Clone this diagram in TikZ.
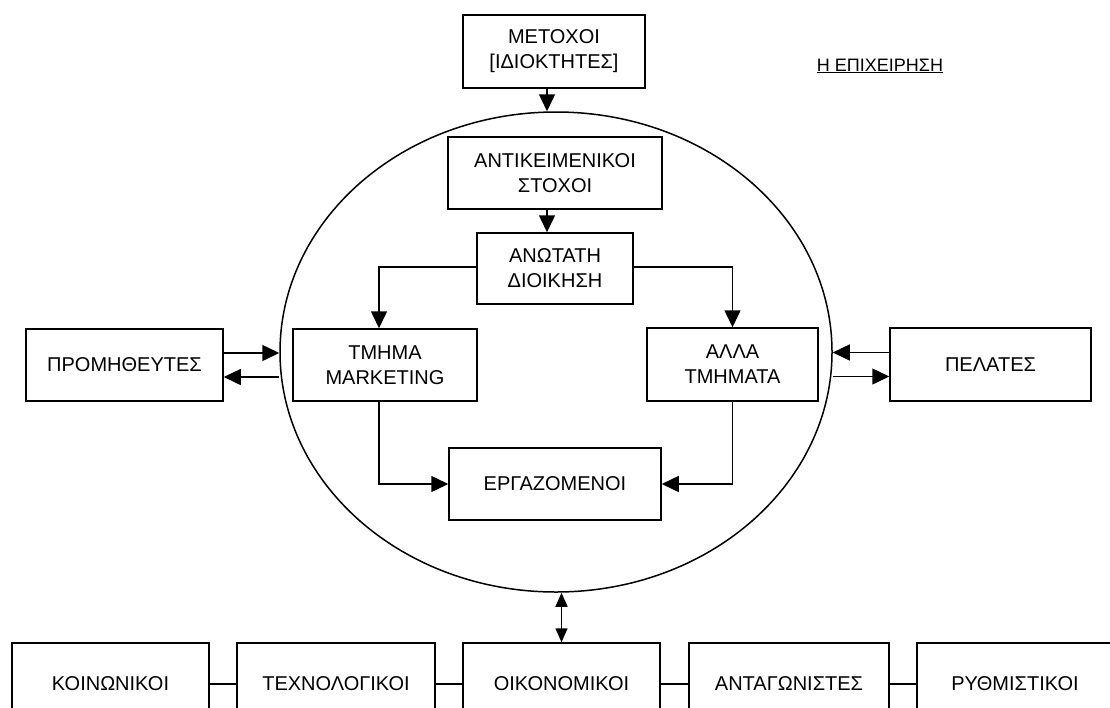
\documentclass[tikz,border=0pt]{standalone}
\usepackage{fontspec}
\setmainfont{Liberation Sans}
\usetikzlibrary{shapes.geometric,arrows.meta}
\begin{document}
\begin{tikzpicture}[x=1pt,y=-1pt,
  box/.style={draw, line width=1.5pt, inner sep=0pt, align=center, font=\fontsize{20}{25}\selectfont},
  arr/.style={line width=1.5pt, -{Triangle[length=17pt,width=16pt]}},
  darr/.style={line width=1.5pt, {Triangle[length=14pt,width=12pt]}-{Triangle[length=14pt,width=12pt]}},
  ln/.style={line width=1.5pt}]
\useasboundingbox (0,0) rectangle (1110,707);
\clip (0,0) rectangle (1110,707);
% firm ellipse
\node[draw, ellipse, line width=1.5pt, minimum width=552pt, minimum height=480pt, inner sep=0pt] (firm) at (556,352) {};
% title
\node[font=\fontsize{18}{20}\selectfont] (title) at (880,66) {\underline{Η ΕΠΙΧΕΙΡΗΣΗ}};
% boxes
\node[box, minimum width=182pt, minimum height=73pt] (met) at (554,51.5) {ΜΕΤΟΧΟΙ\\{[}ΙΔΙΟΚΤΗΤΕΣ{]}};
\node[box, minimum width=214pt, minimum height=72pt] (ant) at (555,173) {ΑΝΤΙΚΕΙΜΕΝΙΚΟΙ\\ΣΤΟΧΟΙ};
\node[box, minimum width=156pt, minimum height=71pt] (ano) at (555,268.5) {ΑΝΩΤΑΤΗ\\ΔΙΟΙΚΗΣΗ};
\node[box, minimum width=184pt, minimum height=72pt] (mkt) at (385,365) {ΤΜΗΜΑ\\MARKETING};
\node[box, minimum width=171pt, minimum height=73pt] (alla) at (732.5,364.5) {ΑΛΛΑ\\ΤΜΗΜΑΤΑ};
\node[box, minimum width=197pt, minimum height=72pt] (prom) at (124.5,365) {ΠΡΟΜΗΘΕΥΤΕΣ};
\node[box, minimum width=201pt, minimum height=73pt] (pel) at (990.5,364.5) {ΠΕΛΑΤΕΣ};
\node[box, minimum width=212pt, minimum height=72pt] (erg) at (555,484) {ΕΡΓΑΖΟΜΕΝΟΙ};
% bottom row
\node[box, minimum width=197pt, minimum height=82pt] (koin) at (110.5,684) {ΚΟΙΝΩΝΙΚΟΙ};
\node[box, minimum width=198pt, minimum height=82pt] (tech) at (336,684) {ΤΕΧΝΟΛΟΓΙΚΟΙ};
\node[box, minimum width=197pt, minimum height=82pt] (oiko) at (561.5,684) {ΟΙΚΟΝΟΜΙΚΟΙ};
\node[box, minimum width=200pt, minimum height=82pt] (anta) at (789,684) {ΑΝΤΑΓΩΝΙΣΤΕΣ};
\node[box, minimum width=196pt, minimum height=82pt] (ryth) at (1015,684) {ΡΥΘΜΙΣΤΙΚΟΙ};
% connectors
\draw[arr] ([xshift=-7pt]met.south) -- ([xshift=-7pt]met.south |- firm.north);
\draw[arr] ([xshift=-8pt]ant.south) -- ([xshift=-8pt]ant.south |- ano.north);
\draw[arr] ([yshift=1.5pt]ano.west) -| (mkt.north -| 379,0);
\draw[arr] ([yshift=1.5pt]ano.east) -| (alla.north);
\draw[arr] ([xshift=-6pt]mkt.south) |- (erg.west);
\draw[arr] (alla.south) |- (erg.east);
\draw[arr] ([yshift=12pt]prom.east) -- ([yshift=12pt]prom.east -| firm.west);
\draw[arr] ([yshift=-12pt]prom.east -| firm.west) -- ([yshift=-12pt]prom.east);
\draw[arr] ([yshift=12pt]pel.west) -- ([yshift=12pt]pel.west -| firm.east);
\draw[arr] ([yshift=-12pt]pel.west -| firm.east) -- ([yshift=-12pt]pel.west);
\draw[darr] (oiko.north |- firm.south) -- (oiko.north);
\draw[ln] (koin.east) -- (tech.west);
\draw[ln] (tech.east) -- (oiko.west);
\draw[ln] (oiko.east) -- (anta.west);
\draw[ln] (anta.east) -- (ryth.west);
\end{tikzpicture}
\end{document}
